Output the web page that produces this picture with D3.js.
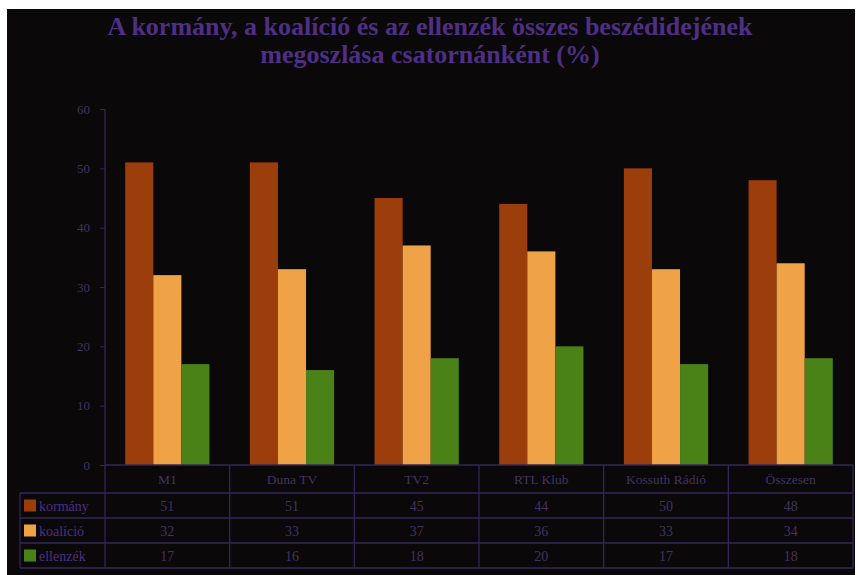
<!DOCTYPE html>
<html><head><meta charset="utf-8">
<script src="https://cdn.jsdelivr.net/npm/d3@7"></script>
<style>html,body{margin:0;padding:0;background:#fff;}svg{display:block;}</style>
</head><body>
<script>
const categories = ["M1", "Duna TV", "TV2", "RTL Klub", "Kossuth Rádió", "Összesen"];
const seriesNames = ["kormány", "koalíció", "ellenzék"];
const kormany = [51, 51, 45, 44, 50, 48];
const koalicio = [32, 33, 37, 36, 33, 34];
const ellenzek = [17, 16, 18, 20, 17, 18];
const yTicks = [0, 10, 20, 30, 40, 50, 60];
const titleLines = ["A kormány, a koalíció és az ellenzék összes beszédidejének", "megoszlása csatornánként (%)"];
const colors = ["#9c3d0c", "#f0a246", "#4b8218"];
const series = [kormany, koalicio, ellenzek];

(function () {
const W = 858, H = 575;
const svg = d3.select("body").append("svg").attr("width", W).attr("height", H);
svg.append("rect").attr("x", 7).attr("y", 9).attr("width", 848).attr("height", 566).attr("fill", "#0a0808");

const titleColor = "#4e2f86";
const textColor = "#413460";
const lineColor = "#33275a";
const serif = "'Liberation Serif','Times New Roman',serif";

svg.selectAll("text.title").data(titleLines).join("text")
  .attr("x", 430).attr("y", (d, i) => 35 + i * 28)
  .attr("text-anchor", "middle").attr("fill", titleColor)
  .attr("font-family", serif).attr("font-weight", "bold").attr("font-size", 26)
  .text(d => d);

const pL = 105, pR = 853, pT = 109, pB = 465;
const x = d3.scaleBand().domain(categories).range([pL, pR]).paddingInner(0).paddingOuter(0);
const y = d3.scaleLinear().domain([0, 60]).range([pB, pT]);
const inner = d3.scaleBand().domain(d3.range(3)).range([0, x.bandwidth()]).paddingInner(0).paddingOuter(0.72);

categories.forEach((c, ci) => {
  series.forEach((s, si) => {
    svg.append("rect")
      .attr("x", x(c) + inner(si)).attr("y", y(s[ci]))
      .attr("width", inner.bandwidth()).attr("height", y(0) - y(s[ci]))
      .attr("fill", colors[si]);
  });
});

const yAxis = svg.append("g").attr("transform", `translate(${pL},0)`)
  .call(d3.axisLeft(y).tickValues(yTicks).tickSize(5).tickPadding(10));
yAxis.select(".domain").remove();
yAxis.selectAll("line").attr("stroke", lineColor);
yAxis.selectAll("text").attr("fill", textColor).attr("font-family", serif).attr("font-size", 13);

const rowTops = [465, 493, 518, 543, 568];
const tableLeft = 20;
const g = svg.append("g").attr("stroke", lineColor).attr("stroke-width", 1.3).attr("fill", "none");
g.append("line").attr("x1", pL).attr("x2", pL).attr("y1", pT).attr("y2", rowTops[4]);
g.append("line").attr("x1", pL).attr("x2", pR).attr("y1", rowTops[0]).attr("y2", rowTops[0]);
for (let i = 1; i < rowTops.length; i++) {
  g.append("line").attr("x1", tableLeft).attr("x2", pR).attr("y1", rowTops[i]).attr("y2", rowTops[i]);
}
g.append("line").attr("x1", tableLeft).attr("x2", tableLeft).attr("y1", rowTops[1]).attr("y2", rowTops[4]);
categories.forEach(c => {
  const xe = x(c) + x.bandwidth();
  g.append("line").attr("x1", xe).attr("x2", xe).attr("y1", rowTops[0]).attr("y2", rowTops[4]);
});

svg.selectAll("text.cat").data(categories).join("text")
  .attr("x", d => x(d) + x.bandwidth() / 2).attr("y", (rowTops[0] + rowTops[1]) / 2 + 5)
  .attr("text-anchor", "middle").attr("fill", textColor)
  .attr("font-family", serif).attr("font-size", 13.5).text(d => d);

series.forEach((s, si) => {
  const cy = (rowTops[si + 1] + rowTops[si + 2]) / 2;
  svg.append("rect").attr("x", 24).attr("y", cy - 6).attr("width", 12).attr("height", 12).attr("fill", colors[si]);
  svg.append("text").attr("x", 39).attr("y", cy + 5).attr("fill", titleColor)
    .attr("font-family", serif).attr("font-size", 14).text(seriesNames[si]);
  categories.forEach((c, ci) => {
    svg.append("text").attr("x", x(c) + x.bandwidth() / 2).attr("y", cy + 5)
      .attr("text-anchor", "middle").attr("fill", textColor)
      .attr("font-family", serif).attr("font-size", 14).text(s[ci]);
  });
});
})();
</script>
</body></html>
